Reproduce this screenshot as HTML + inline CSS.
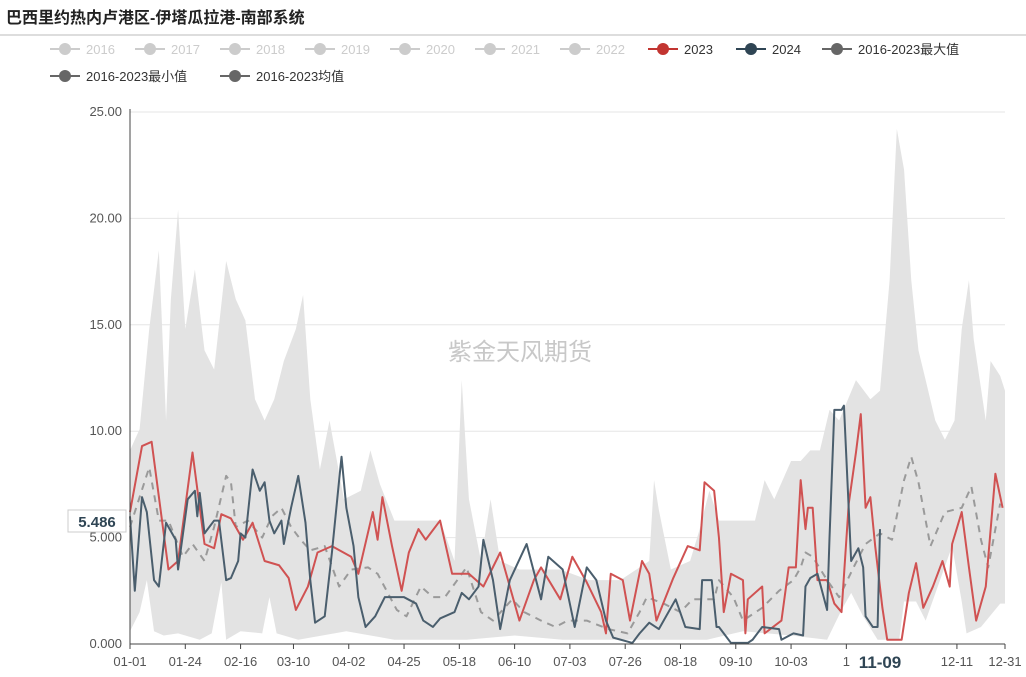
<!DOCTYPE html>
<html><head><meta charset="utf-8">
<style>
body{margin:0;background:#fff;font-family:"Liberation Sans","Noto Sans CJK SC",sans-serif;}
svg text{font-family:"Liberation Sans","Noto Sans CJK SC",sans-serif;}
</style></head>
<body>
<svg id="chart" width="1026" height="672">
<text x="6" y="23" font-size="16" font-weight="bold" fill="#222">巴西里约热内卢港区-伊塔瓜拉港-南部系统</text>
<line x1="0" y1="35" x2="1026" y2="35" stroke="#bbb"/>
<g id="legend"></g>
<g id="grid"></g>
<text x="520" y="360" font-size="24" fill="#c8c8c8" text-anchor="middle">紫金天风期货</text>
<g id="marks"></g>
<g id="axes"></g>
</svg>
<script>
const yTicks=[0,5,10,15,20,25];
const yTickLabels=["0.000","5.000","10.00","15.00","20.00","25.00"];
const xTickDays=[0,23,46,68,91,114,137,160,183,206,229,252,275,298,344,364];
const xTickLabels=["01-01","01-24","02-16","03-10","04-02","04-25","05-18","06-10","07-03","07-26","08-18","09-10","10-03","1","12-11","12-31"];
const legendNames=["2016","2017","2018","2019","2020","2021","2022","2023","2024","2016-2023最大值","2016-2023最小值","2016-2023均值"];

const days2023=[0,5,9,16,20,26,31,35,38,42,47,51,56,62,66,69,74,78,84,92,95,101,103,105,109,113,116,120,123,129,134,141,147,154,162,168,171,179,184,190,196,198,200,205,208,213,216,219,226,232,237,239,243,245,247,250,255,256,257,263,264,271,274,277,279,281,282,284,286,290,293,296,299,302,304,306,308,310,313,315,321,324,327,330,334,338,341,342,346,349,352,356,360,363];
const vals2023=[6.2,9.3,9.5,3.5,3.9,9.0,4.7,4.5,6.1,5.9,4.9,5.7,3.9,3.7,3.1,1.6,2.7,4.3,4.6,4.1,3.3,6.2,4.9,6.9,4.6,2.5,4.3,5.4,4.9,5.8,3.3,3.3,2.7,4.3,1.1,3.0,3.6,2.1,4.1,2.9,1.5,0.5,3.3,3.0,1.1,3.9,3.3,1.1,3.1,4.6,4.4,7.6,7.2,5.0,1.5,3.3,3.0,0.5,2.1,2.7,0.5,1.1,3.6,3.6,7.7,5.4,6.4,6.4,3.0,3.0,1.9,1.5,6.6,9.0,10.8,6.4,6.9,4.6,1.7,0.2,0.2,2.4,3.8,1.7,2.7,3.9,2.7,4.7,6.2,3.6,1.1,2.7,8.0,6.4];

const days2024=[0,2,5,7,10,12,15,19,20,24,27,28,29,31,35,37,40,42,45,46,48,51,54,56,58,60,63,64,67,70,73,75,77,81,84,87,88,90,93,95,98,102,106,110,114,119,122,126,129,135,138,141,145,147,151,154,158,165,171,174,180,185,190,194,198,201,209,212,216,220,227,231,237,238,242,244,245,250,257,259,263,270,271,276,280,281,283,286,290,291,293,296,297,300,303,305,306,309,311,312];
const vals2024=[6.0,2.5,6.9,6.2,3.0,2.7,5.7,4.9,3.5,6.8,7.2,6.0,7.1,5.2,5.8,5.8,3.0,3.1,3.9,5.2,5.0,8.2,7.2,7.6,5.8,5.2,5.8,4.7,6.4,7.9,5.7,3.0,1.0,1.3,4.3,7.7,8.8,6.4,4.6,2.2,0.8,1.3,2.2,2.2,2.2,1.9,1.1,0.8,1.2,1.5,2.4,2.1,2.7,4.9,3.0,0.7,3.0,4.7,2.1,4.1,3.5,0.8,3.6,3.0,1.1,0.3,0.05,0.5,1.0,0.7,2.1,0.8,0.7,3.0,3.0,0.8,0.8,0.05,0.05,0.2,0.8,0.7,0.2,0.5,0.4,2.7,3.1,3.3,1.6,5.0,11.0,11.0,11.2,3.9,4.5,3.6,1.3,0.8,0.8,5.4];

const daysMean=[0,8,12,16,22,26,31,35,40,42,44,49,55,59,63,67,71,75,81,87,92,99,103,111,115,121,126,131,140,146,151,159,164,171,177,182,190,199,207,212,215,222,229,234,243,245,245,251,255,263,270,276,279,281,284,290,295,301,306,312,317,322,325,328,333,339,346,350,354,357,362];
const valsMean=[5.5,8.3,5.8,5.8,4.1,4.7,3.9,5.5,7.9,7.6,5.5,5.8,5.0,6.0,6.4,5.5,4.9,4.4,4.6,2.7,3.5,3.6,3.3,1.6,1.3,2.7,2.2,2.2,3.6,1.5,1.1,2.1,1.5,1.1,0.8,1.1,1.1,0.7,0.5,1.5,2.2,1.9,1.5,2.1,2.1,3.0,3.0,2.2,1.1,1.7,2.5,3.0,3.6,4.3,4.1,3.0,2.2,3.6,4.7,5.2,4.9,7.7,8.8,7.6,4.6,6.2,6.4,7.4,4.9,3.6,6.6];

const daysMax=[0,4,8,12,15,17,20,23,27,31,35,40,44,48,52,56,60,64,69,72,75,79,83,89,96,100,104,110,121,129,135,138,141,146,150,154,162,171,179,191,196,204,216,218,220,225,233,237,241,245,254,260,264,268,275,279,283,287,291,295,302,308,312,316,319,322,325,328,331,335,339,343,346,349,351,356,358,362,364];
const valsMax=[9.1,10.1,14.8,18.5,10.5,16.2,20.4,14.8,17.6,13.8,12.9,18.0,16.2,15.2,11.5,10.5,11.5,13.3,14.8,16.4,11.5,8.2,10.5,6.8,7.2,9.1,7.5,5.8,5.8,5.8,3.9,12.4,6.8,3.9,6.8,3.9,3.5,3.5,3.5,3.0,3.0,3.0,3.9,7.7,6.3,3.5,3.9,5.4,7.2,5.8,5.8,5.8,7.7,6.8,8.6,8.6,9.1,9.1,11.0,10.5,12.4,11.5,11.9,17.1,24.2,22.3,17.1,13.8,12.4,10.5,9.6,10.5,14.8,17.1,14.3,10.5,13.3,12.6,11.9];
const daysMin=[0,4,7,10,14,20,29,34,38,40,46,55,58,61,70,90,110,140,160,180,210,240,255,275,290,296,300,305,311,320,322,327,331,342,346,348,354,362,364];
const valsMin=[0.6,1.5,3.0,0.6,0.4,0.5,0.2,0.5,2.9,0.2,0.6,0.5,2.2,0.5,0.2,0.6,0.2,0.2,0.4,0.2,0.2,0.2,0.6,0.4,0.2,1.6,2.4,1.3,0.2,0.2,2.0,2.0,1.1,4.6,2.0,0.5,0.8,1.9,1.9];

const X0=130,X1=1005,Y0=644,Y1=112;
const xs=d=>X0+(X1-X0)*d/364;
const ys=v=>Y0-(Y0-Y1)*v/25;
const NS="http://www.w3.org/2000/svg";
function mk(tag,attrs,parent){const e=document.createElementNS(NS,tag);for(const k in attrs)e.setAttribute(k,attrs[k]);parent.appendChild(e);return e;}

const grid=document.getElementById('grid'),axes=document.getElementById('axes'),marks=document.getElementById('marks'),legend=document.getElementById('legend');
yTicks.forEach((t,i)=>{
  if(t>0){const g=mk('line',{x1:X0,x2:X1,y1:ys(t),y2:ys(t),stroke:'#e6e6e6'},grid);
  
  }
  const l=mk('text',{x:122,y:ys(t)+4,'font-size':13,fill:'#555','text-anchor':'end'},axes);l.textContent=yTickLabels[i];
  
  
});
const ya=mk('line',{x1:X0,x2:X0,y1:Y1-3,y2:Y0,stroke:'#444'},axes);


const xa=mk('line',{x1:X0,x2:X1,y1:Y0,y2:Y0,stroke:'#444'},axes);


xTickDays.forEach((d,i)=>{
  mk('line',{x1:xs(d),x2:xs(d),y1:Y0,y2:Y0+5,stroke:'#444'},axes);
  const l=mk('text',{x:xs(d),y:666,'font-size':13,fill:'#555','text-anchor':'middle'},axes);l.textContent=xTickLabels[i];
  
  
});
const xp=mk('text',{x:xs(312),y:668,'font-size':17,'font-weight':'bold',fill:'#2f4554','text-anchor':'middle'},axes);xp.textContent='11-09';


const yb=mk('rect',{x:68,y:510,width:58,height:22,fill:'#fff',stroke:'#ccc'},axes);


const yp=mk('text',{x:97,y:527,'font-size':15,'font-weight':'bold',fill:'#2f4554','text-anchor':'middle'},axes);yp.textContent='5.486';



let pts=daysMax.map((d,i)=>xs(d)+','+ys(valsMax[i]));
for(let i=daysMin.length-1;i>=0;i--)pts.push(xs(daysMin[i])+','+ys(valsMin[i]));
const band=mk('polygon',{points:pts.join(' '),fill:'#e3e3e3'},marks);


function line(days,vals,color,w,dash,name){
  const p=mk('polyline',{points:days.map((d,i)=>xs(d)+','+ys(vals[i])).join(' '),fill:'none',stroke:color,'stroke-width':w,'stroke-linejoin':'round'},marks);
  if(dash)p.setAttribute('stroke-dasharray',dash);
  
  
}
line(daysMean,valsMean,'#9a9a9a',2,'7,6','mean-line');
line(days2023,vals2023,'#d05252',2,null,'line-2023');
line(days2024,vals2024,'#4a5e6d',2,null,'line-2024');

const legPos=[[50,49],[135,49],[220,49],[305,49],[390,49],[475,49],[560,49],[648,49],[736,49],[822,49],[50,76],[220,76]];
const legCol=['#ccc','#ccc','#ccc','#ccc','#ccc','#ccc','#ccc','#c23531','#2f4554','#666','#666','#666'];
const txtCol=['#ccc','#ccc','#ccc','#ccc','#ccc','#ccc','#ccc','#333','#333','#333','#333','#333'];
legendNames.forEach((n,i)=>{
  const [x,y]=legPos[i];
  const g=mk('g',{},legend);
  
  
  mk('line',{x1:x,x2:x+30,y1:y,y2:y,stroke:legCol[i],'stroke-width':2},g);
  mk('circle',{cx:x+15,cy:y,r:6,fill:legCol[i]},g);
  const t=mk('text',{x:x+36,y:y+5,'font-size':13,fill:txtCol[i]},g);t.textContent=n;
});
</script>
</body></html>
